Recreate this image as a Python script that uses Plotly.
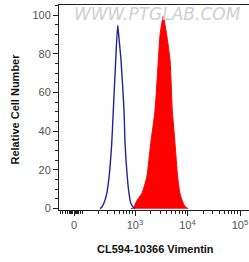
import numpy as np
import plotly.graph_objects as go

# ---- data (fluorescence intensity, relative cell number) ----
control_intensity = [215, 232, 257, 289, 320, 360, 386, 429, 468, 495, 541, 617, 646, 713, 769, 839, 929, 1000]
control_count     = [0, 0.7, 3, 7.8, 16.2, 33.7, 50.8, 76.7, 94.8, 88, 76.7, 50.8, 33.7, 16.2, 7.8, 2.5, 0.7, 0]

stained_intensity = [839, 935, 1076, 1343, 1671, 1991, 2404, 2780, 2992, 3199, 3459, 3724, 4018, 4645, 5129, 5781, 6501, 7194, 7962, 8770, 9661, 10233]
stained_count     = [0, 0.5, 4, 7.8, 16.2, 33.7, 50.8, 76.7, 89.6, 95, 99.5, 95, 89.6, 76.7, 50.8, 33.7, 16.2, 7.8, 4, 1.5, 0.5, 0]

x_tick_labels = ["0", "10<sup>3</sup>", "10<sup>4</sup>", "10<sup>5</sup>"]
y_tick_values = [0, 20, 40, 60, 80, 100]

x_title = "CL594-10366 Vimentin"
y_title = "Relative Cell Number"
watermark = "WWW.PTGLAB.COM"

# display transform: decades (log10), with "0" placed on the biexponential-like linear region
zero_pos = 1.838
def disp(v):
    return np.log10(np.asarray(v, dtype=float))

major_ticks = [zero_pos, 3, 4, 5]
minor_ticks = [2.0] + [d + np.log10(k) for d in (2, 3, 4) for k in range(2, 10)]
minor_ticks += [zero_pos + o for o in (-0.25, -0.21, -0.17, -0.13, -0.09, -0.06, -0.04, -0.02,
                                       0.02, 0.04, 0.06, 0.09, 0.12)]

font_family = "Liberation Sans, Arial, sans-serif"

fig = go.Figure()
fig.add_trace(go.Scatter(
    x=disp(stained_intensity), y=stained_count, mode="lines",
    line=dict(color="#ff0000", width=1, shape="spline", smoothing=0.6),
    fill="tozeroy", fillcolor="#ff0000", hoverinfo="skip", showlegend=False))
fig.add_trace(go.Scatter(
    x=disp(control_intensity), y=control_count, mode="lines",
    line=dict(color="#22229a", width=1.4, shape="spline", smoothing=0.6),
    hoverinfo="skip", showlegend=False))

fig.update_layout(
    width=249, height=262,
    margin=dict(l=59, r=0, t=5, b=52),
    paper_bgcolor="white", plot_bgcolor="white",
    font=dict(family=font_family, size=11, color="#555555"),
    xaxis=dict(
        range=[1.552, 5.171], showgrid=False, zeroline=False,
        showline=True, linecolor="#222222", linewidth=1, mirror=True,
        tickmode="array", tickvals=major_ticks, ticktext=x_tick_labels,
        ticks="outside", ticklen=5, tickcolor="#222222", tickwidth=1,
        tickfont=dict(size=11, color="#555555"),
        minor=dict(tickvals=minor_ticks, ticks="outside", ticklen=3,
                   tickcolor="#222222", tickwidth=1),
    ),
    yaxis=dict(
        range=[-0.7, 105.2], showgrid=False, zeroline=False,
        showline=True, linecolor="#222222", linewidth=1,
        tickmode="array", tickvals=y_tick_values,
        ticks="outside", ticklen=5, tickcolor="#222222", tickwidth=1,
        tickfont=dict(size=11, color="#555555"),
        minor=dict(dtick=5, ticks="outside", ticklen=3, tickcolor="#222222", tickwidth=1),
    ),
    annotations=[
        dict(text=watermark, xref="paper", yref="paper", x=0.52, y=0.958,
             showarrow=False, xanchor="center", yanchor="middle",
             font=dict(family="DejaVu Sans", size=17, color="#d0d0d0", style="italic")),
        dict(text="<b>" + x_title + "</b>", xref="paper", yref="paper", x=0.5105, y=-0.19,
             showarrow=False, xanchor="center", yanchor="middle",
             font=dict(family=font_family, size=11, color="#111111")),
        dict(text="<b>" + y_title + "</b>", xref="paper", yref="paper", x=-0.2316, y=0.495,
             showarrow=False, xanchor="center", yanchor="middle", textangle=-90,
             font=dict(family=font_family, size=11, color="#111111")),
    ],
)

fig.write_html("out.html", config={"displayModeBar": False},
               post_script="document.body.style.margin='0';document.body.style.overflow='hidden';")
